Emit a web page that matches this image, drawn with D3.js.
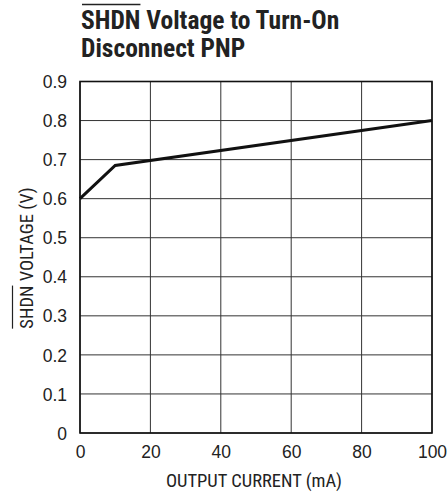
<!DOCTYPE html>
<html>
<head>
<meta charset="utf-8">
<script src="https://cdn.jsdelivr.net/npm/d3@7"></script>
<style>
  body { margin: 0; background: #fff; }
  text { font-family: "Liberation Sans Narrow", "Arial Narrow", "Roboto Condensed", sans-serif; fill: #222; }
</style>
</head>
<body>
<div id="chart"></div>
<script>
// data
var currentMA = [0, 10, 100];
var shdnVolts = [0.6, 0.685, 0.8];
var xTicks = [0, 20, 40, 60, 80, 100];
var yTicks = [0, 0.1, 0.2, 0.3, 0.4, 0.5, 0.6, 0.7, 0.8, 0.9];

var W = 448, H = 494;
var margin = { top: 81.5, right: 16, bottom: 61, left: 80 };
var width = W - margin.left - margin.right;
var height = H - margin.top - margin.bottom;

var svg = d3.select('#chart').append('svg')
  .attr('width', W)
  .attr('height', H);

var x = d3.scaleLinear().domain([0, 100]).range([0, width]);
var y = d3.scaleLinear().domain([0, 0.9]).range([height, 0]);

// title, SHDN has an overline
var title = svg.append('text')
  .attr('x', 81).attr('y', 29)
  .style('font-size', '25.5px').style('font-weight', 'bold');
title.append('tspan').text('SHDN');
title.append('tspan').text(' Voltage to Turn-On');
svg.append('text')
  .attr('x', 81).attr('y', 57)
  .style('font-size', '25.5px').style('font-weight', 'bold')
  .text('Disconnect PNP');
var tw = title.node().getSubStringLength(0, 4);
svg.append('line')
  .attr('x1', 82).attr('x2', 81 + tw)
  .attr('y1', 4.5).attr('y2', 4.5)
  .attr('stroke', '#222').attr('stroke-width', 1.3);

var g = svg.append('g')
  .attr('transform', `translate(${margin.left}, ${margin.top})`);

// grid
g.selectAll('.vgrid').data(xTicks).enter().append('line')
  .attr('x1', d => x(d)).attr('x2', d => x(d))
  .attr('y1', 0).attr('y2', height)
  .attr('stroke', '#333').attr('stroke-width', 1);
g.selectAll('.hgrid').data(yTicks).enter().append('line')
  .attr('x1', 0).attr('x2', width)
  .attr('y1', d => y(d)).attr('y2', d => y(d))
  .attr('stroke', '#333').attr('stroke-width', 1);

g.append('rect')
  .attr('width', width).attr('height', height)
  .attr('fill', 'none').attr('stroke', '#111').attr('stroke-width', 1.6);

// axes (labels only)
var xAxis = g.append('g')
  .attr('transform', `translate(0, ${height})`)
  .call(d3.axisBottom(x).tickValues(xTicks).tickSize(0).tickPadding(13));
var yAxis = g.append('g')
  .call(d3.axisLeft(y).tickValues(yTicks).tickSize(0).tickPadding(13)
    .tickFormat(d => d === 0 ? '0' : d3.format('.1f')(d)));
[xAxis, yAxis].forEach(a => {
  a.select('.domain').remove();
  a.selectAll('text').style('font-size', '17.5px')
    .style('font-family', '"Liberation Sans Narrow", "Arial Narrow", sans-serif')
    .attr('fill', '#222');
});
yAxis.selectAll('text').attr('dy', '0.35em');

// data line
var pts = currentMA.map((c, i) => ({ x: c, y: shdnVolts[i] }));
g.append('path')
  .datum(pts)
  .attr('fill', 'none')
  .attr('stroke', '#111')
  .attr('stroke-width', 3)
  .attr('stroke-linejoin', 'miter')
  .attr('d', d3.line().x(d => x(d.x)).y(d => y(d.y)));

// axis titles
svg.append('text')
  .attr('x', 254).attr('y', 487)
  .attr('text-anchor', 'middle')
  .style('font-size', '18.5px')
  .text('OUTPUT CURRENT (mA)');

var yt = svg.append('text')
  .attr('transform', 'translate(33, 258) rotate(-90)')
  .attr('text-anchor', 'middle')
  .style('font-size', '18.5px');
yt.append('tspan').text('SHDN');
yt.append('tspan').text(' VOLTAGE (V)');
var ytw = yt.node().getComputedTextLength();
var yshw = yt.node().getSubStringLength(0, 4);
// overline on the rotated SHDN
svg.append('line')
  .attr('transform', 'translate(33, 258) rotate(-90)')
  .attr('x1', -ytw / 2).attr('x2', -ytw / 2 + yshw)
  .attr('y1', -20.5).attr('y2', -20.5)
  .attr('stroke', '#222').attr('stroke-width', 1.2);
</script>
</body>
</html>
